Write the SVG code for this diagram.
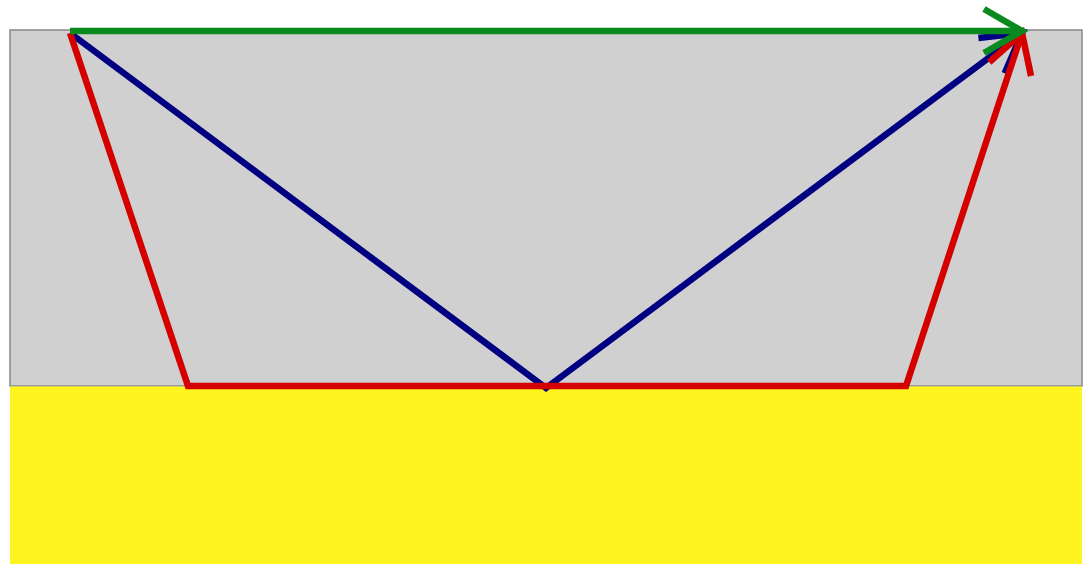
<svg xmlns="http://www.w3.org/2000/svg" width="1087" height="564" viewBox="0 0 1087 564">
<style>
.ray{fill:none;stroke-width:6.5;stroke-linejoin:miter}
.blue{stroke:#000080}
.red{stroke:#d40000}
.green{stroke:#0a8a1e}
</style>
<defs>
<marker id="ahBlue" markerUnits="userSpaceOnUse" orient="auto" markerWidth="60" markerHeight="60" refX="0" refY="0" viewBox="-50 -30 60 60" overflow="visible"><path d="M-38,-22 L0,0 L-38,22" fill="none" stroke="#000080" stroke-width="6.5"/></marker>
<marker id="ahRed" markerUnits="userSpaceOnUse" orient="auto" markerWidth="60" markerHeight="60" refX="0" refY="0" viewBox="-50 -30 60 60" overflow="visible"><path d="M-38,-22 L0,0 L-38,22" fill="none" stroke="#d40000" stroke-width="6.5"/></marker>
<marker id="ahGreen" markerUnits="userSpaceOnUse" orient="auto" markerWidth="60" markerHeight="60" refX="0" refY="0" viewBox="-50 -30 60 60" overflow="visible"><path d="M-38,-22 L0,0 L-38,22" fill="none" stroke="#0a8a1e" stroke-width="6.5"/></marker>
</defs>
<rect width="1087" height="564" fill="#ffffff"/>
<g id="upper-medium"><rect x="10" y="30" width="1072" height="356" fill="#d0d0d0" stroke="#888888" stroke-width="1.5"/></g>
<g id="lower-medium"><rect x="10" y="386.5" width="1072" height="178" fill="#fff51e"/></g>
<g id="connectors">
<polyline class="ray blue" points="70,33 546,388 1022,33" marker-end="url(#ahBlue)"/>
<polyline class="ray red" points="70,33 188,386 906,386 1022,33" marker-end="url(#ahRed)"/>
<polyline class="ray green" points="70,31 1022,31" marker-end="url(#ahGreen)"/>
</g>
</svg>
